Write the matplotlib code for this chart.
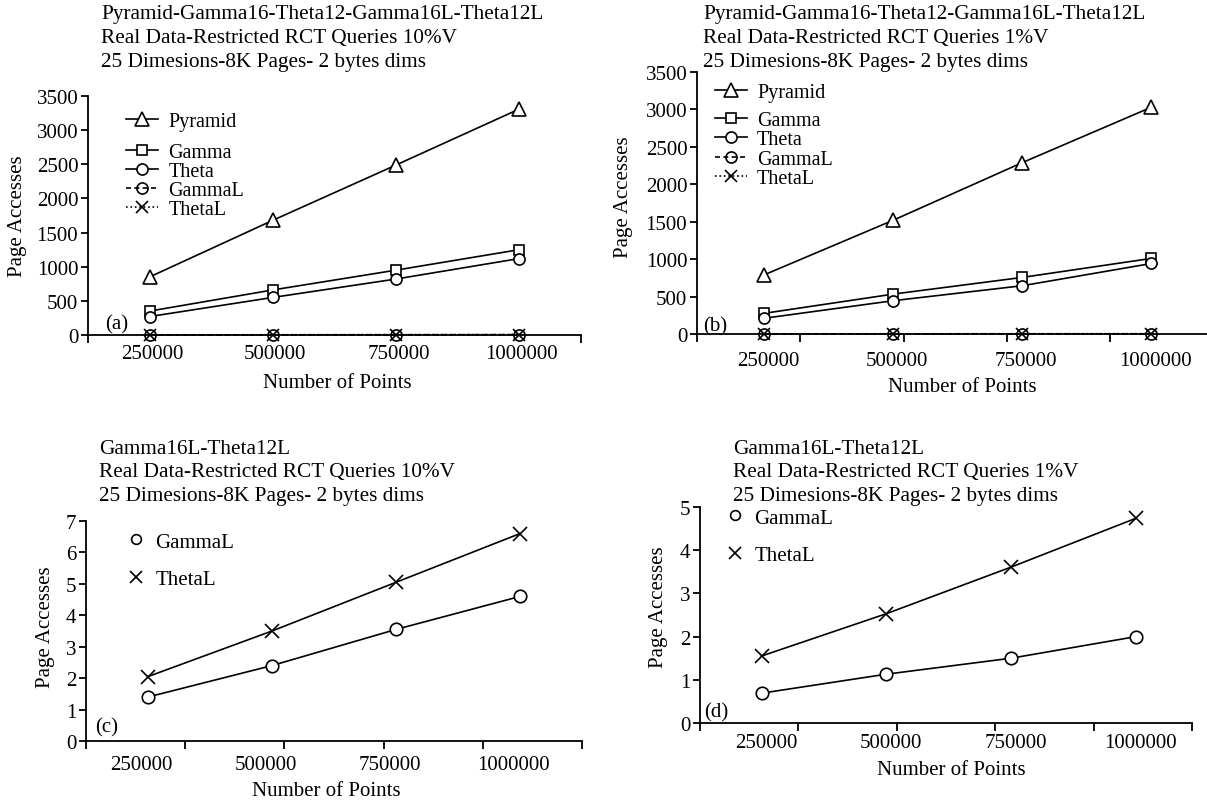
import matplotlib.pyplot as plt
import numpy as np
from matplotlib.ticker import FixedLocator

plt.rcParams['font.family'] = ['Liberation Serif', 'DejaVu Serif']

# number of points (categories on x)
n_points = ['250000', '500000', '750000', '1000000']

# (a) restricted RCT queries 10%V
pyramid_10 = [850, 1680, 2490, 3310]
gamma_10 = [350, 660, 950, 1250]
theta_10 = [270, 550, 820, 1120]
gammaL_10 = [1.4, 2.4, 3.55, 4.6]
thetaL_10 = [2.05, 3.5, 5.05, 6.6]

# (b) restricted RCT queries 1%V
pyramid_1 = [790, 1520, 2290, 3030]
gamma_1 = [276, 533, 756, 1010]
theta_1 = [210, 445, 645, 942]
gammaL_1 = [0.69, 1.13, 1.5, 2.0]
thetaL_1 = [1.55, 2.53, 3.61, 4.74]

W, H = 1207, 803
FS = 15
fig = plt.figure(figsize=(W / 100, H / 100), dpi=100)


def px_axes(left, right, top, bottom):
    return fig.add_axes([left / W, 1 - bottom / H, (right - left) / W, (bottom - top) / H])


def ftext(x, y, s):
    fig.text(x / W, 1 - y / H, s, fontsize=15.3, ha='left', va='center')


def style(ax, xmax, bounds, ymax, ystep, lab_pos, pad, tag, tagpos, ylab_pos, xlab_pos):
    for s in ['top', 'right']:
        ax.spines[s].set_visible(False)
    for s in ['left', 'bottom']:
        ax.spines[s].set_linewidth(1.3)
    ax.set_xlim(0, xmax)
    ax.set_ylim(0, ymax)
    ax.set_yticks(np.arange(0, ymax + ystep / 2, ystep))
    ax.tick_params(axis='y', direction='out', length=5, width=1.3, pad=2, labelsize=FS)
    ax.xaxis.set_major_locator(FixedLocator(lab_pos))
    ax.set_xticklabels(n_points)
    ax.xaxis.set_minor_locator(FixedLocator(bounds))
    ax.tick_params(axis='x', which='major', length=0, pad=pad, labelsize=FS)
    ax.tick_params(axis='x', which='minor', direction='out', length=6, width=1.3)
    ax.text(tagpos[0], tagpos[1], tag, transform=ax.transAxes, fontsize=FS,
            ha='left', va='center')
    ax.set_ylabel('Page Accesses', fontsize=FS, va='center', ha='center')
    ax.yaxis.set_label_coords(*ylab_pos)
    ax.set_xlabel('Number of Points', fontsize=FS, va='center', ha='center')
    ax.xaxis.set_label_coords(*xlab_pos)


def big_panel(ax, pos, pyr, gam, the, gL, tL, leg1, leg2):
    l1, = ax.plot(pos, pyr, '-^', color='black', lw=1.2, ms=10, mfc='white', mew=1.2)
    l2, = ax.plot(pos, gam, '-s', color='black', lw=1.2, ms=7, mfc='white', mew=1.2)
    l3, = ax.plot(pos, the, '-o', color='black', lw=1.2, ms=8, mfc='white', mew=1.2)
    l4, = ax.plot(pos, gL, linestyle=(0, (3, 2)), marker='o', color='black', lw=1.2,
                  ms=8, mfc='none', mew=1.2, clip_on=False)
    l5, = ax.plot(pos, tL, linestyle=':', marker='x', color='black', lw=1.2,
                  ms=9, mew=1.2, clip_on=False)
    kw = dict(loc='upper left', frameon=False, fontsize=14.5, borderpad=0,
              borderaxespad=0, handlelength=1.6, handletextpad=0.5)
    lg = ax.legend([l1], ['Pyramid'], bbox_to_anchor=leg1, **kw)
    ax.add_artist(lg)
    ax.legend([l2, l3, l4, l5], ['Gamma', 'Theta', 'GammaL', 'ThetaL'],
              bbox_to_anchor=leg2, labelspacing=0.0, **kw)


def small_panel(ax, pos, gL, tL, leg):
    ax.plot(pos, gL, '-o', color='black', lw=1.2, ms=9, mfc='white', mew=1.2)
    ax.plot(pos, tL, '-x', color='black', lw=1.2, ms=10, mew=1.2)
    h1, = ax.plot([], [], 'o', color='black', ms=7, mfc='white', mew=1.2)
    h2, = ax.plot([], [], 'x', color='black', ms=9, mew=1.2)
    ax.legend([h1, h2], ['GammaL', 'ThetaL'], loc='upper left', bbox_to_anchor=leg,
              frameon=False, fontsize=FS, borderpad=0, borderaxespad=0,
              handlelength=0.8, handletextpad=0.5, labelspacing=0.85)


cats = np.arange(len(n_points))

# (a)
ax = px_axes(88, 581, 97, 336)
big_panel(ax, cats + 0.5, pyramid_10, gamma_10, theta_10, gammaL_10, thetaL_10,
          (0.077, 0.935), (0.077, 0.805))
style(ax, 4, [0, 4], 3500, 500, cats + 0.52, 6.5, '(a)', (0.035, 0.046),
      (-0.144, 0.5), (0.505, -0.197))
ftext(101, 15, 'Pyramid-Gamma16-Theta12-Gamma16L-Theta12L')
ftext(101, 39, 'Real Data-Restricted RCT Queries 10%V')
ftext(101, 63, '25 Dimesions-8K Pages- 2 bytes dims')

# (b)
ax = px_axes(697, 1207, 73, 335)
big_panel(ax, cats + 0.52, pyramid_1, gamma_1, theta_1, gammaL_1, thetaL_1,
          (0.035, 0.96), (0.035, 0.85))
style(ax, 3.95, np.arange(0, 3.3, 0.8), 3500, 500, cats + 0.55, 12.5, '(b)',
      (0.012, 0.03), (-0.145, 0.525), (0.52, -0.2))
ftext(703, 15, 'Pyramid-Gamma16-Theta12-Gamma16L-Theta12L')
ftext(703, 39, 'Real Data-Restricted RCT Queries 1%V')
ftext(703, 63, '25 Dimesions-8K Pages- 2 bytes dims')

# (c)
ax = px_axes(86, 582, 522, 742)
small_panel(ax, cats + 0.5, gammaL_10, thetaL_10, (0.085, 0.95))
style(ax, 4, np.arange(0, 4.1, 0.8), 7, 1, cats + 0.45, 10, '(c)', (0.018, 0.064),
      (-0.081, 0.52), (0.484, -0.227))
ftext(99, 450, 'Gamma16L-Theta12L')
ftext(99, 473, 'Real Data-Restricted RCT Queries 10%V')
ftext(99, 497, '25 Dimesions-8K Pages- 2 bytes dims')

# (d)
ax = px_axes(700, 1192, 508, 724)
small_panel(ax, cats * 1.015 + 0.5, gammaL_1, thetaL_1, (0.055, 0.995))
style(ax, 4, np.arange(0, 4.1, 0.8), 5, 1, cats * 1.015 + 0.54, 7.5, '(d)',
      (0.008, 0.05), (-0.085, 0.54), (0.51, -0.213))
ftext(733, 450, 'Gamma16L-Theta12L')
ftext(733, 473, 'Real Data-Restricted RCT Queries 1%V')
ftext(733, 497, '25 Dimesions-8K Pages- 2 bytes dims')

fig.savefig('out.png', dpi=100)
